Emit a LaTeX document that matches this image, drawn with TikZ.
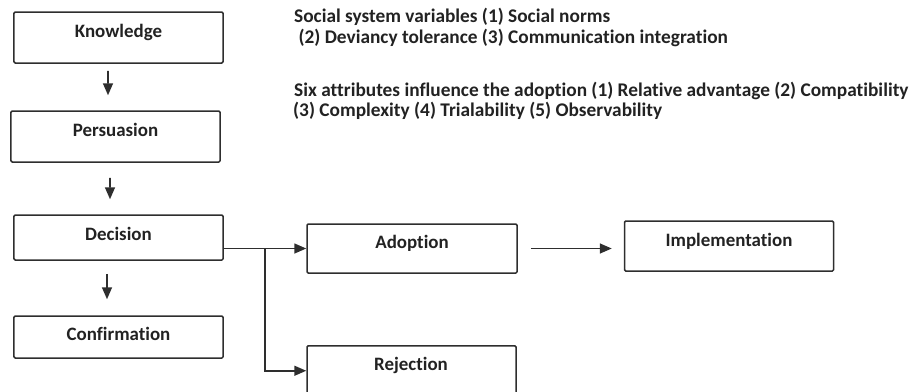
\documentclass[tikz,border=0pt]{standalone}
\usepackage{fontspec}
\setmainfont{Carlito}[Ligatures=NoCommon]
\usetikzlibrary{arrows.meta}
\definecolor{ink}{HTML}{222222}
\definecolor{edge}{HTML}{2E2E2E}
\tikzset{
  boxnode/.style={draw=edge, line width=1.5bp, rounded corners=1.2bp, rectangle, inner sep=0pt,
    font=\fontsize{19}{22}\selectfont\bfseries, text=ink, text height=6bp, text depth=6bp},
  conn/.style={draw=edge, line width=1.6bp, -{Triangle[length=12bp,width=10bp]}},
  note/.style={anchor=base west, inner sep=0pt, text=ink, font=\fontsize{19.4}{22}\selectfont\bfseries}
}
\begin{document}
\begin{tikzpicture}[x=1bp,y=-1bp]
\useasboundingbox (0,0) rectangle (913,391);
\clip (0,0) rectangle (913,391);
\node[boxnode, minimum width=209bp, minimum height=51bp] (k) at (118.5,37.5) {Knowledge};
\node[boxnode, minimum width=209bp, minimum height=51bp] (p) at (115.5,136.5) {Persuasion};
\node[boxnode, minimum width=209bp, minimum height=45bp] (d) at (118.5,237.5) {\raisebox{-3bp}{Decision}};
\node[boxnode, minimum width=209bp, minimum height=42bp] (c) at (118.5,337) {\raisebox{-3bp}{Confirmation}};
\node[boxnode, minimum width=210bp, minimum height=49bp] (a) at (412,248.5) {Adoption};
\node[boxnode, minimum width=209bp, minimum height=50bp] (i) at (729,246) {Implementation};
\node[boxnode, minimum width=209bp, minimum height=50bp, anchor=north] (r) at (411.5,345) {};
\node[anchor=base, inner sep=0pt, text=ink, font=\fontsize{19}{22}\selectfont\bfseries] (rt) at (411,370) {Rejection};
\node[note] (n1) at (294,22) {Social system variables (1) Social norms};
\node[note] (n2) at (294,43) {\ (2) Deviancy tolerance (3) Communication integration};
\node[note] (n3) at (294,96) {Six attributes influence the adoption (1) Relative advantage (2) Compatibility};
\node[note] (n4) at (293,116) {(3) Complexity (4) Trialability (5) Observability};
\draw[conn, shorten <=7bp, shorten >=15bp] ([xshift=-10.5bp]k.south) -- ([xshift=-7.5bp]p.north);
\draw[conn, shorten <=15bp, shorten >=15bp] ([xshift=-5.5bp]p.south) -- ([xshift=-8.5bp]d.north);
\draw[conn, shorten <=13bp, shorten >=16bp] ([xshift=-11.5bp]d.south) -- ([xshift=-11.5bp]c.north);
\coordinate (br) at (265,248.5);
\draw[conn] (a.west -| d.east) -- (a.west);
\draw[conn] (br) |- (r.west);
\draw[conn, shorten <=13bp, shorten >=12bp] (a.east) -- (a.east -| i.west);
\end{tikzpicture}
\end{document}
